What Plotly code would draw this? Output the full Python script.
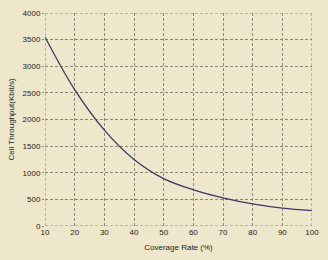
import plotly.graph_objects as go

coverage_rate = [10, 20, 30, 40, 50, 60, 70, 80, 90, 100]
throughput = [3550, 2560, 1800, 1250, 890, 680, 530, 415, 335, 290]

x_ticks = [10, 20, 30, 40, 50, 60, 70, 80, 90, 100]
y_ticks = [0, 500, 1000, 1500, 2000, 2500, 3000, 3500, 4000]

bg = "#EFE7CB"
grid = "#8E8674"
dash = "3px,2px"

fig = go.Figure(go.Scatter(
    x=coverage_rate, y=throughput, mode="lines",
    line=dict(color="#3B3763", width=1.3, shape="spline", smoothing=1.0),
    hoverinfo="skip"))

fig.update_layout(
    width=328, height=260,
    margin=dict(l=45, r=14, t=9, b=32),
    paper_bgcolor=bg, plot_bgcolor=bg,
    showlegend=False,
    font=dict(family="Liberation Sans, Arial, sans-serif", size=8, color="#222222"),
)
fig.update_xaxes(
    range=[10, 100], tickvals=x_ticks, ticktext=[str(v) for v in x_ticks],
    showgrid=True, gridcolor=grid, griddash=dash, gridwidth=1,
    showline=False, zeroline=False,
    ticks="", ticklen=0,
    title=dict(text="Coverage Rate (%)", font=dict(size=8, color="#222222"), standoff=8),
)
fig.update_yaxes(
    range=[0, 4000], tickvals=y_ticks, ticktext=[str(v) for v in y_ticks],
    showgrid=True, gridcolor=grid, griddash=dash, gridwidth=1,
    showline=False, zeroline=False,
    ticks="outside", ticklen=2, tickcolor=grid,
    title=dict(text="Cell Throughput(Kbit/s)", font=dict(size=8, color="#222222"), standoff=6),
)
# dashed frame lines at plot edges
for xv in [10, 100]:
    fig.add_vline(x=xv, line=dict(color=grid, width=1, dash=dash))
for yv in [0, 4000]:
    fig.add_hline(y=yv, line=dict(color=grid, width=1, dash=dash))

fig.write_html("out.html")
